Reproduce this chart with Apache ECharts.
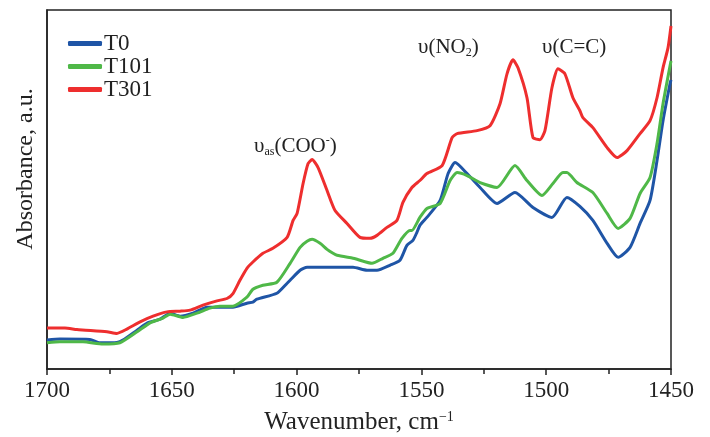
<!DOCTYPE html>
<html>
<head>
<meta charset="utf-8">
<script src="https://cdn.jsdelivr.net/npm/echarts@6/dist/echarts.min.js"></script>
<style>
  html, body { margin: 0; padding: 0; background: #fff; }
  #chart { width: 710px; height: 437px; }
</style>
</head>
<body>
<div id="chart"></div>
<script>
// wavenumber (cm-1) and absorbance (arbitrary units)
const wnT0 = [1700, 1694.8, 1682.8, 1678.8, 1672.0, 1669.6, 1663.9, 1659.9, 1654.7, 1650.7, 1646.7, 1641.5, 1635.9, 1630.7, 1625.5, 1619.9, 1617.5, 1615.9, 1607.9, 1603.8, 1602.6, 1598.6, 1595.8, 1594.6, 1577.4, 1571.8, 1567.8, 1562.6, 1558.6, 1555.8, 1553.4, 1551.8, 1550.6, 1547.8, 1542.5, 1539.3, 1536.5, 1531.7, 1526.5, 1519.7, 1512.5, 1505.3, 1497.7, 1491.7, 1486.5, 1481.3, 1475.6, 1471.2, 1466.4, 1462.4, 1458.4, 1455.6, 1453.2, 1450.4, 1450]
const absT0 = [29, 30, 29.7, 26.3, 26.7, 29, 39, 46, 50, 56, 53, 56, 62, 62, 62, 66, 67, 70, 76, 86, 89, 99, 102, 102, 102, 99, 99, 104, 109, 124, 129, 137, 144, 152, 169, 196, 207, 196, 182, 166, 177, 162, 152, 172, 163, 149, 126, 112, 122, 146, 169, 209, 249, 286, 290]

const wnT101 = [1700, 1694.8, 1685.6, 1677.6, 1670.8, 1663.9, 1658.7, 1653.5, 1650.7, 1645.5, 1639.9, 1634.7, 1630.7, 1625.5, 1619.9, 1617.5, 1613.5, 1607.9, 1602.6, 1598.6, 1595.8, 1593.8, 1590.6, 1587.8, 1585.4, 1583.8, 1577.4, 1575.8, 1569.8, 1565.4, 1561.4, 1557.8, 1554.6, 1553.8, 1550.6, 1547.8, 1542.5, 1538.5, 1535.7, 1531.7, 1526.5, 1519.7, 1512.5, 1507.7, 1501.7, 1497.3, 1493.3, 1491.7, 1487.7, 1481.3, 1475.6, 1471.2, 1466.4, 1462.4, 1458.4, 1455.6, 1453.2, 1450]
const absT101 = [26.3, 27.3, 27.3, 25, 26.3, 37.3, 46.3, 51, 55, 51.7, 56, 61, 63, 63, 72, 80, 84, 87, 106, 122, 128, 130, 126, 120, 116, 114, 111, 110, 106, 111, 116, 131, 139, 139, 152, 161, 166, 189, 197, 194, 187, 182, 204, 189, 174, 186, 197, 197, 187, 177, 156, 141, 151, 176, 192, 226, 266, 309]

const wnT301 = [1700, 1692.8, 1688.0, 1676.0, 1672.0, 1668.0, 1662.7, 1657.5, 1651.9, 1646.7, 1642.7, 1637.5, 1631.9, 1627.9, 1625.5, 1622.7, 1619.9, 1617.5, 1613.5, 1609.5, 1603.8, 1601.4, 1599.8, 1597.4, 1595.4, 1593.8, 1591.4, 1587.8, 1584.6, 1579.8, 1574.6, 1570.6, 1567.8, 1563.8, 1559.8, 1557.4, 1553.8, 1550.6, 1547.8, 1541.7, 1537.7, 1535.7, 1527.7, 1522.5, 1518.5, 1515.7, 1513.3, 1511.3, 1507.7, 1505.3, 1502.5, 1500.5, 1497.7, 1495.3, 1492.5, 1489.3, 1486.5, 1485.3, 1481.3, 1475.6, 1471.6, 1467.6, 1462.4, 1458.4, 1455.6, 1453.2, 1451.2, 1450]
const absT301 = [41, 41, 39.5, 37.3, 35.7, 40, 47.3, 53, 57.3, 58, 59, 64, 68.3, 70.7, 75.7, 89, 101, 107.3, 116, 121, 132, 149, 156, 186, 206, 210, 202, 179, 159, 146, 132, 131, 134, 142, 149, 167, 182, 189, 196, 204, 232, 236, 239, 244, 266, 296, 310, 302, 272, 232, 230, 239, 282, 301, 296, 272, 259, 252, 242, 222, 212, 219, 236, 249, 272, 302, 322, 344]

const seriesNames = ['T0', 'T101', 'T301']
const seriesColors = ['#1f55a6', '#4fb848', '#ee2e2e']
const xTicks = [1700, 1650, 1600, 1550, 1500, 1450]

const font = 'Liberation Serif'
const ink = '#222'

function pairs(xs, ys) {
  return xs.map((x, i) => [x, ys[i]])
}

const chart = echarts.init(document.getElementById('chart'))
const dataSets = [pairs(wnT0, absT0), pairs(wnT101, absT101), pairs(wnT301, absT301)]

chart.setOption({
  animation: false,
  textStyle: { fontFamily: font, color: ink },
  grid: {
    left: 47,
    right: 39,
    top: 10,
    bottom: 68,
    outerBoundsMode: 'none',
    show: true,
    borderColor: ink,
    borderWidth: 1.5
  },
  legend: {
    data: seriesNames,
    orient: 'vertical',
    left: 68,
    top: 32,
    padding: 0,
    icon: 'roundRect',
    itemWidth: 34,
    itemHeight: 5,
    itemGap: 0,
    textStyle: { fontFamily: font, fontSize: 23, color: ink, lineHeight: 22.5, padding: [0, 0, 0, -3] }
  },
  xAxis: {
    type: 'value',
    inverse: true,
    min: 1450,
    max: 1700,
    interval: 50,
    name: 'Wavenumber, cm{sup|\u22121}',
    nameLocation: 'middle',
    nameGap: 41,
    nameTextStyle: {
      fontFamily: font,
      fontSize: 25,
      color: ink,
      rich: {
        sup: { fontFamily: font, fontSize: 14, color: ink, verticalAlign: 'top', padding: [0, 0, 10, 0] }
      }
    },
    axisLine: { onZero: false, lineStyle: { color: ink, width: 1.5 } },
    axisTick: { length: 6, lineStyle: { color: ink, width: 1.5 } },
    minorTick: { show: true, splitNumber: 2, length: 5, lineStyle: { color: ink, width: 1.5 } },
    axisLabel: {
      fontFamily: font,
      fontSize: 23,
      color: ink,
      margin: 10,
      formatter: v => (xTicks.includes(v) ? String(v) : '')
    },
    splitLine: { show: false }
  },
  yAxis: {
    type: 'value',
    min: 0,
    max: 360,
    axisLine: { show: true, lineStyle: { color: ink, width: 1.5 } },
    axisTick: { show: false },
    axisLabel: { show: false },
    splitLine: { show: false }
  },
  graphic: [
    {
      type: 'text',
      x: 26,
      y: 169,
      rotation: Math.PI / 2,
      style: {
        text: 'Absorbance, a.u.',
        font: '24px "Liberation Serif"',
        fill: ink,
        align: 'center',
        verticalAlign: 'middle'
      }
    },
    {
      type: 'text',
      x: 254,
      y: 146,
      style: {
        text: '\u03c5{sub|as}(COO{sup|-})',
        font: '21px "Liberation Serif"',
        fill: ink,
        verticalAlign: 'middle',
        rich: {
          sub: { font: '12px "Liberation Serif"', fill: ink, padding: [12, 0, 0, 0] },
          sup: { font: '12px "Liberation Serif"', fill: ink, padding: [0, 0, 10, 0] }
        }
      }
    },
    {
      type: 'text',
      x: 418,
      y: 47,
      style: {
        text: '\u03c5(NO{sub|2})',
        font: '21px "Liberation Serif"',
        fill: ink,
        verticalAlign: 'middle',
        rich: {
          sub: { font: '12px "Liberation Serif"', fill: ink, padding: [12, 0, 0, 0] }
        }
      }
    },
    {
      type: 'text',
      x: 542,
      y: 47,
      style: {
        text: '\u03c5(C=C)',
        font: '21px "Liberation Serif"',
        fill: ink,
        verticalAlign: 'middle'
      }
    }
  ],
  series: seriesNames.map((name, i) => ({
    name: name,
    type: 'line',
    data: dataSets[i],
    symbol: 'none',
    smooth: 0.2,
    color: seriesColors[i],
    lineStyle: { width: 3, color: seriesColors[i] }
  }))
})
</script>
</body>
</html>
